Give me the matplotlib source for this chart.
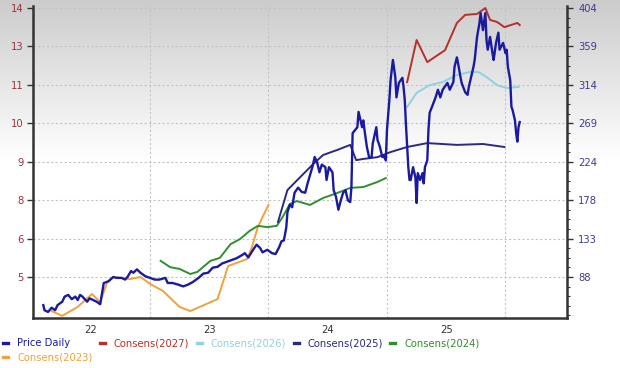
import numpy as np
import matplotlib
matplotlib.use("Agg")
import matplotlib.pyplot as plt
from matplotlib.lines import Line2D

# x values are decimal years; EPS on the left axis, share price on the right axis
year_labels = ['22', '23', '24', '25']
year_label_pos = [2022.5, 2023.5, 2024.5, 2025.5]
year_bounds = [2023, 2024, 2025, 2026]

eps_tick_labels = ['5', '6', '8', '9', '10', '11', '13', '14']
price_tick_labels = ['88', '133', '178', '224', '269', '314', '359', '404']

price_x = [2022.10, 2022.11, 2022.14, 2022.17, 2022.20, 2022.22, 2022.26, 2022.28, 2022.31, 2022.34,
           2022.37, 2022.39, 2022.41, 2022.43, 2022.47, 2022.49, 2022.52, 2022.55, 2022.58, 2022.60,
           2022.61, 2022.65, 2022.69, 2022.72, 2022.76, 2022.79, 2022.81, 2022.84, 2022.86, 2022.89,
           2022.92, 2022.96, 2023.00, 2023.04, 2023.08, 2023.13, 2023.15, 2023.19, 2023.24, 2023.28,
           2023.32, 2023.36, 2023.41, 2023.45, 2023.49, 2023.53, 2023.57, 2023.61, 2023.65, 2023.69,
           2023.73, 2023.78, 2023.80, 2023.83, 2023.87, 2023.90, 2023.93, 2023.95, 2023.99, 2024.03,
           2024.06, 2024.09, 2024.11, 2024.13, 2024.15, 2024.16, 2024.18, 2024.20, 2024.22, 2024.25,
           2024.28, 2024.31, 2024.33, 2024.37, 2024.39, 2024.41, 2024.43, 2024.45, 2024.48, 2024.49,
           2024.51, 2024.54, 2024.55, 2024.57, 2024.59, 2024.61, 2024.63, 2024.65, 2024.67, 2024.69,
           2024.70, 2024.71, 2024.75, 2024.76, 2024.79, 2024.80, 2024.81, 2024.83, 2024.85, 2024.87,
           2024.88, 2024.91, 2024.92, 2024.94, 2024.96, 2024.97, 2024.99, 2025.00, 2025.02, 2025.03,
           2025.05, 2025.07, 2025.08, 2025.10, 2025.13, 2025.14, 2025.15, 2025.16, 2025.17, 2025.18,
           2025.19, 2025.20, 2025.22, 2025.24, 2025.25, 2025.26, 2025.28, 2025.30, 2025.31, 2025.32,
           2025.34, 2025.35, 2025.36, 2025.38, 2025.41, 2025.43, 2025.45, 2025.47, 2025.51, 2025.53,
           2025.56, 2025.57, 2025.59, 2025.60, 2025.62, 2025.63, 2025.66, 2025.68, 2025.69, 2025.71,
           2025.73, 2025.74, 2025.76, 2025.78, 2025.79, 2025.81, 2025.83, 2025.84, 2025.85, 2025.87,
           2025.89, 2025.90, 2025.92, 2025.94, 2025.95, 2025.98, 2026.00, 2026.01, 2026.02, 2026.04,
           2026.05, 2026.06, 2026.08, 2026.09, 2026.10, 2026.11, 2026.12]
price_y = [55, 49, 47, 52, 49, 55, 59, 65, 67, 62,
           65, 61, 67, 65, 59, 63, 61, 59, 56, 73,
           81, 83, 88, 87, 87, 85, 88, 95, 93, 97,
           93, 89, 87, 85, 85, 87, 81, 81, 79, 77,
           79, 82, 87, 92, 93, 99, 100, 104, 106, 108,
           110, 114, 116, 111, 120, 126, 122, 117, 120, 116,
           115, 123, 130, 131, 146, 164, 173, 170, 187, 193,
           188, 187, 198, 217, 229, 223, 211, 220, 217, 202,
           217, 211, 190, 182, 167, 178, 187, 190, 178, 176,
           194, 257, 264, 282, 264, 272, 261, 241, 228, 229,
           245, 264, 249, 241, 229, 231, 225, 261, 296, 319,
           343, 323, 299, 316, 322, 311, 296, 267, 241, 217,
           202, 202, 217, 205, 175, 210, 202, 210, 198, 217,
           225, 261, 281, 288, 299, 308, 299, 308, 316, 308,
           317, 335, 346, 339, 323, 316, 305, 302, 311, 323,
           335, 343, 370, 386, 398, 378, 398, 366, 355, 370,
           351, 343, 363, 375, 355, 363, 351, 355, 335, 319,
           288, 284, 272, 257, 247, 264, 270]

c2027_x = [2025.17, 2025.25, 2025.34, 2025.49, 2025.59, 2025.66, 2025.76, 2025.83, 2025.87, 2025.93, 2025.99, 2026.10, 2026.12]
c2027_y = [11.52, 12.93, 12.19, 12.59, 13.50, 13.77, 13.80, 14.00, 13.60, 13.53, 13.36, 13.50, 13.43]

c2026_x = [2025.17, 2025.25, 2025.36, 2025.47, 2025.59, 2025.70, 2025.77, 2025.84, 2025.93, 2026.01, 2026.11]
c2026_y = [10.69, 11.16, 11.42, 11.52, 11.76, 11.86, 11.86, 11.69, 11.42, 11.32, 11.36]

c2025_x = [2024.08, 2024.16, 2024.27, 2024.37, 2024.46, 2024.58, 2024.69, 2024.74, 2024.80, 2024.92,
           2025.03, 2025.17, 2025.34, 2025.59, 2025.81, 2025.99]
c2025_y = [6.84, 7.91, 8.35, 8.75, 9.08, 9.25, 9.42, 8.91, 8.95, 9.01,
           9.18, 9.35, 9.48, 9.42, 9.45, 9.35]

c2024_x = [2023.09, 2023.17, 2023.25, 2023.34, 2023.40, 2023.51, 2023.59, 2023.68, 2023.76, 2023.84,
           2023.91, 2023.99, 2024.07, 2024.12, 2024.18, 2024.24, 2024.35, 2024.46, 2024.58, 2024.69,
           2024.80, 2024.92, 2024.99]
c2024_y = [5.54, 5.33, 5.27, 5.10, 5.17, 5.54, 5.64, 6.10, 6.27, 6.54,
           6.71, 6.67, 6.71, 7.01, 7.44, 7.54, 7.41, 7.64, 7.81, 7.98,
           8.01, 8.18, 8.31]

c2023_x = [2022.17, 2022.26, 2022.39, 2022.51, 2022.58, 2022.64, 2022.69, 2022.83, 2022.92, 2023.00,
           2023.11, 2023.25, 2023.34, 2023.42, 2023.57, 2023.66, 2023.82, 2023.86, 2023.91, 2023.95,
           2024.00]
c2023_y = [3.86, 3.70, 4.00, 4.43, 4.16, 4.83, 5.00, 4.93, 5.00, 4.77,
           4.53, 4.00, 3.86, 4.00, 4.26, 5.37, 5.60, 6.00, 6.67, 7.01,
           7.41]

col_price = '#1a1aa0'
col_2027 = '#b5302a'
col_2026 = '#93cfe2'
col_2025 = '#2a2a7e'
col_2024 = '#2f8f2f'
col_2023 = '#f0a23c'

fig = plt.figure(figsize=(6.2, 3.68), dpi=100)

# grey-to-white background
bg = fig.add_axes([0, 0, 1, 1], zorder=-10)
rows = np.clip(np.arange(368) / 160.0, 0, 1)
shade = 0.80 + 0.20 * rows
img = np.repeat(shade[:, None, None], 3, axis=2)
bg.imshow(img, aspect='auto', extent=[0, 1, 0, 1])
bg.axis('off')

ax = fig.add_axes([33 / 620, 50 / 368, 534 / 620, 312 / 368])
ax.patch.set_alpha(0)
ax.set_xlim(2022.013, 2026.519)
ax.set_ylim(3.628, 14.067)

ax2 = ax.twinx()
ax2.set_ylim(39.87, 406.35)

ax.plot(c2023_x, c2023_y, color=col_2023, lw=1.4)
ax.plot(c2024_x, c2024_y, color=col_2024, lw=1.4)
ax.plot(c2025_x, c2025_y, color=col_2025, lw=1.4)
ax.plot(c2026_x, c2026_y, color=col_2026, lw=1.4)
ax.plot(c2027_x, c2027_y, color=col_2027, lw=1.4)
ax2.plot(price_x, price_y, color=col_price, lw=1.7)

# axes styling
eps_ticks = np.linspace(5, 14, len(eps_tick_labels))
ax.set_yticks(eps_ticks)
ax.set_yticklabels(eps_tick_labels)
price_ticks = np.linspace(88, 404, len(price_tick_labels))
ax2.set_yticks(price_ticks)
ax2.set_yticklabels(price_tick_labels)
step = (404 - 88) / 28
ax2.set_yticks(np.arange(88 - 4 * step, 404 + step / 2, step), minor=True)

ax.set_xticks(year_label_pos)
ax.set_xticklabels(year_labels)
ax.set_xticks(year_bounds, minor=True)

ax.tick_params(axis='y', length=4, width=1, color='#333333', labelcolor='#a0303c',
               labelsize=7.2, pad=3)
ax.tick_params(axis='x', which='both', length=0, labelcolor='#333333', labelsize=7.2, pad=5)
ax2.tick_params(axis='y', which='major', length=4, width=1, color='#333333',
                labelcolor='#3c3c8c', labelsize=7.2, pad=4)
ax2.tick_params(axis='y', which='minor', length=2.5, width=0.8, color='#333333')

ax.grid(axis='y', which='major', ls=(0, (2, 2)), color='#c4c4c4', lw=0.8)
ax.grid(axis='x', which='minor', ls=(0, (2, 2)), color='#c4c4c4', lw=0.8)
ax.set_axisbelow(True)

for s in ['top', 'right']:
    ax.spines[s].set_visible(False)
for s in ['top', 'left', 'bottom']:
    ax2.spines[s].set_visible(False)
for sp in [ax.spines['left'], ax.spines['bottom'], ax2.spines['right']]:
    sp.set_color('#333333')
    sp.set_linewidth(1.8)

# legend
names = ['Price Daily', 'Consens(2023)', 'Consens(2027)', 'Consens(2026)', 'Consens(2025)', 'Consens(2024)']
colors = [col_price, col_2023, col_2027, col_2026, col_2025, col_2024]
handles = [Line2D([], [], color=c, lw=2.4) for c in colors]
fig.legend(handles, names, ncol=5, loc='upper left', bbox_to_anchor=(3 / 620, 1 - 338 / 368),
           frameon=False, fontsize=7.2, handlelength=0.5, handletextpad=0.9,
           columnspacing=0.75, labelspacing=0.45, borderpad=0, borderaxespad=0,
           labelcolor='linecolor')

fig.savefig('out.png', dpi=100)
